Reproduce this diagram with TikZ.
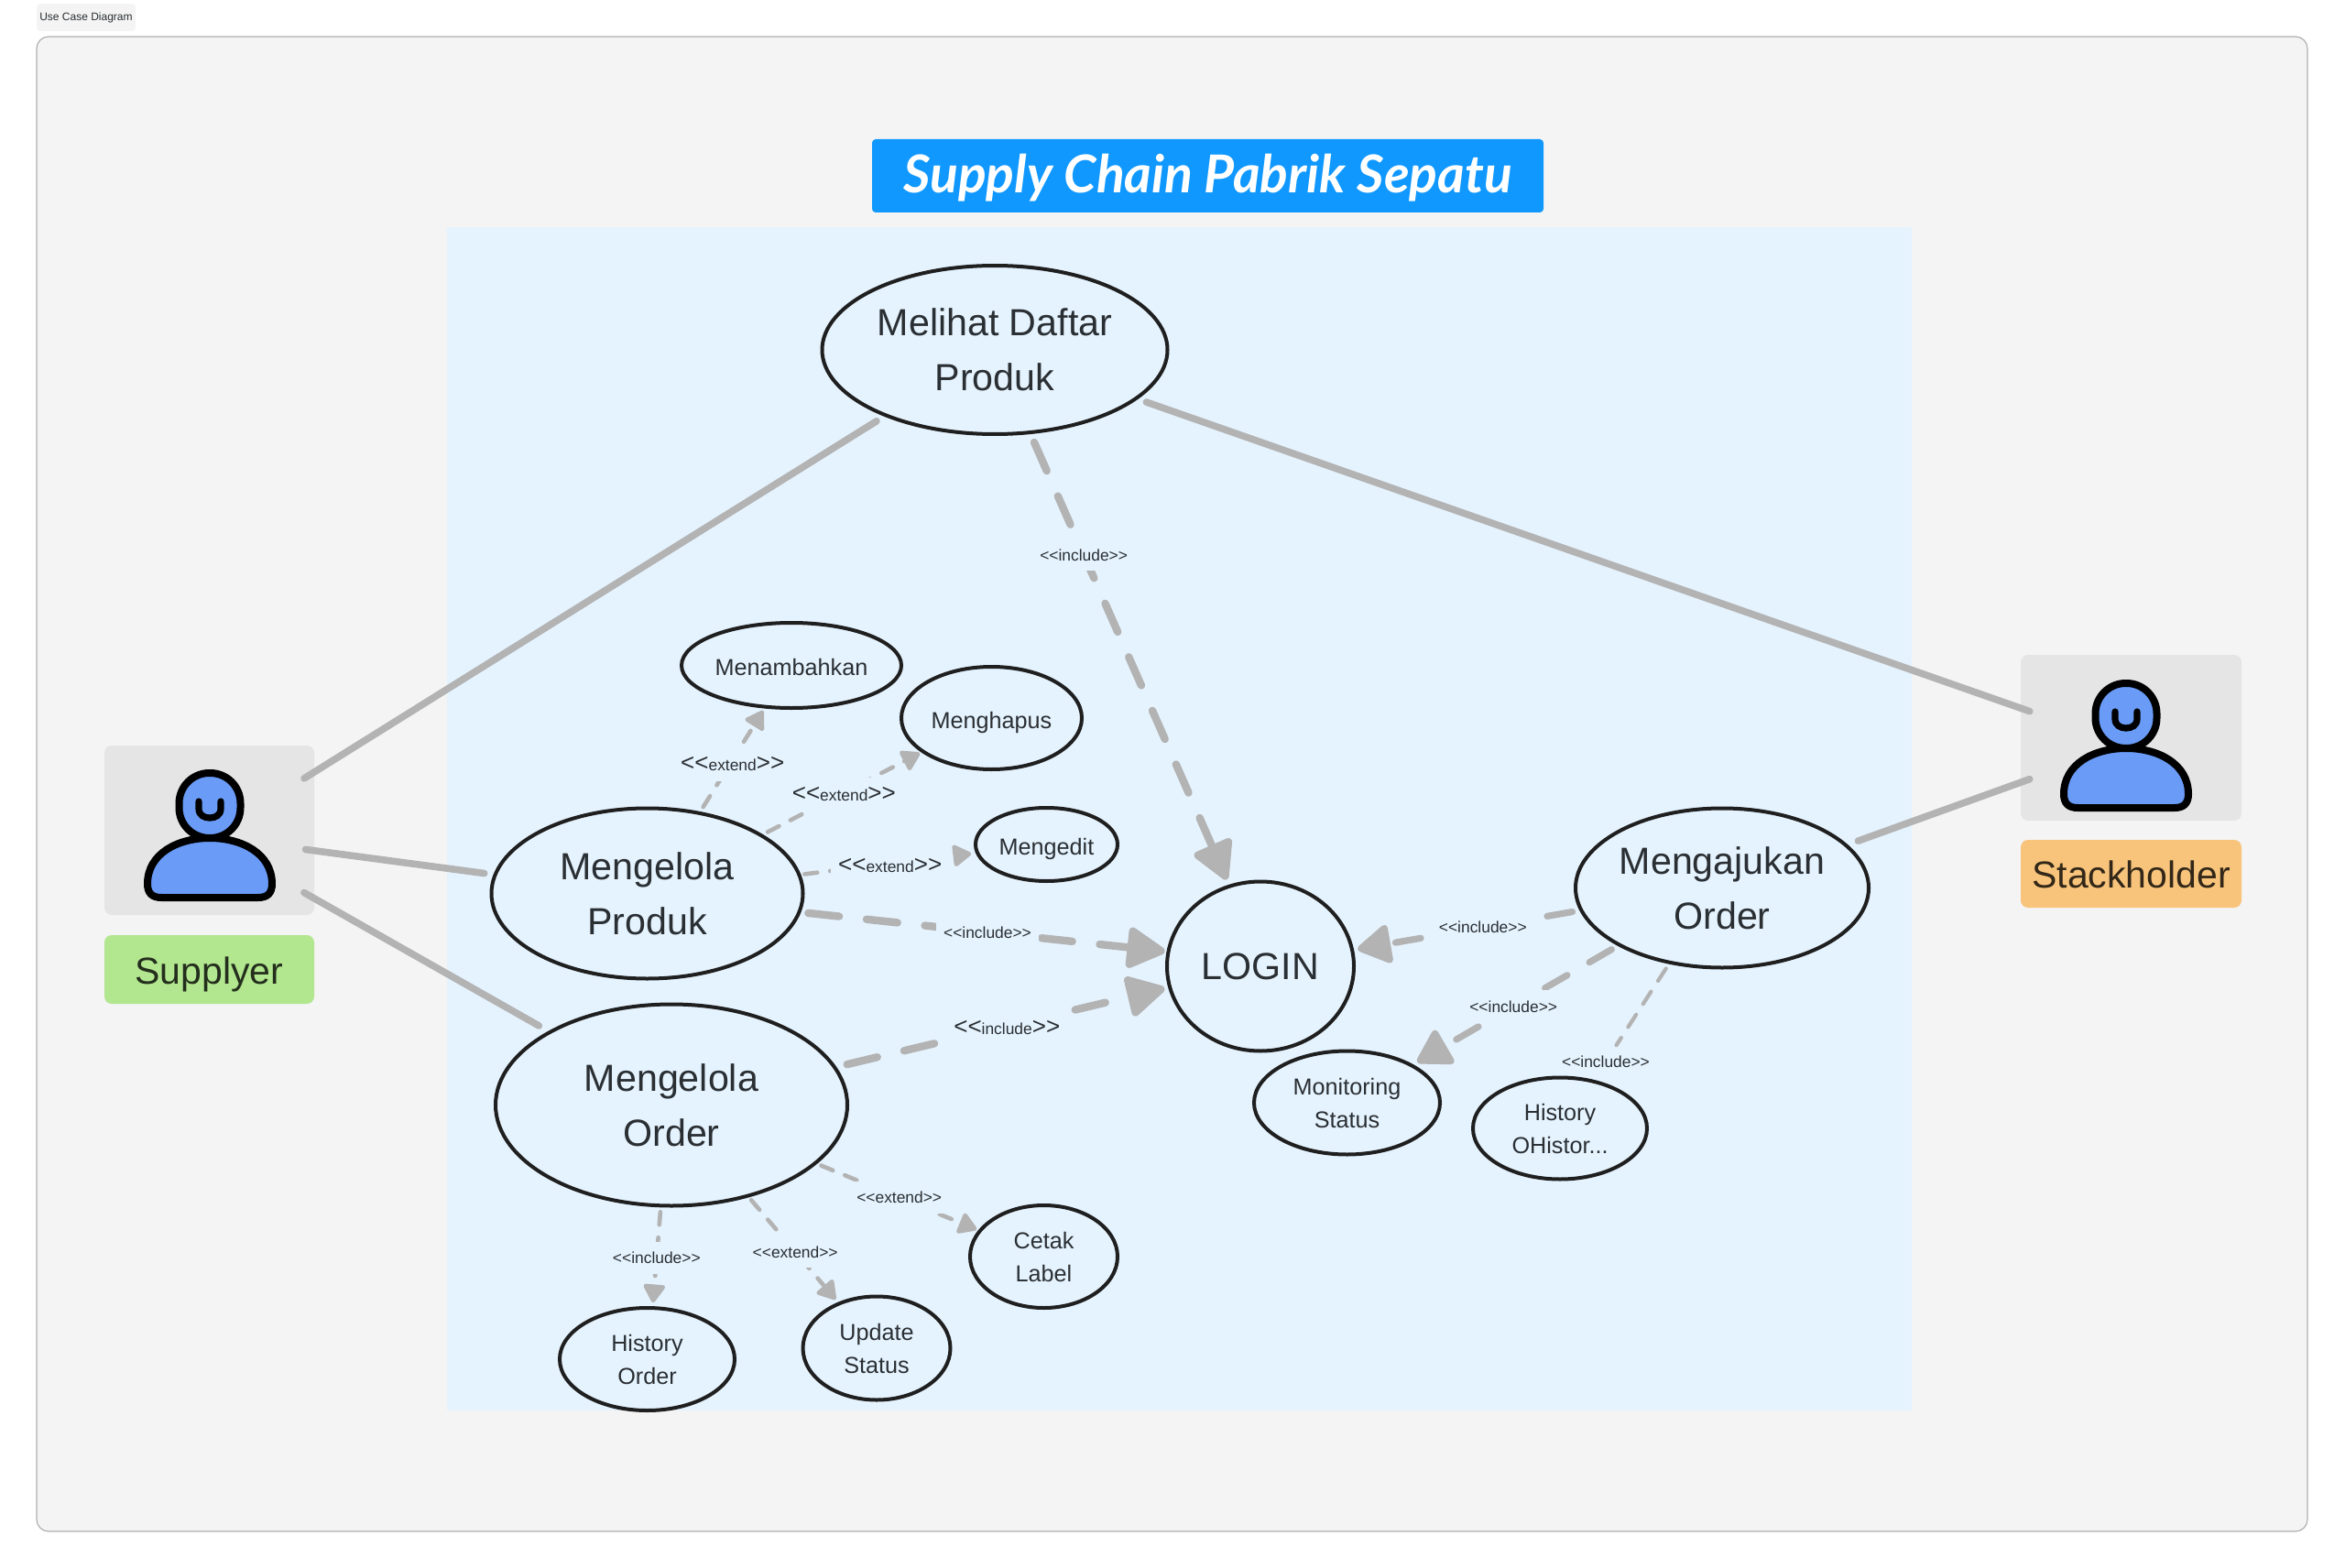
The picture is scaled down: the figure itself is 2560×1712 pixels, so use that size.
\documentclass[tikz,border=0pt]{standalone}
\usepackage{fontspec}
\setsansfont{Liberation Sans}
\newfontfamily\titlefont{Lato}
\usetikzlibrary{shapes.geometric, arrows.meta}

\definecolor{framefill}{HTML}{F4F4F4}
\definecolor{frameline}{HTML}{B0B0B0}
\definecolor{panelblue}{HTML}{E5F3FE}
\definecolor{titleblue}{HTML}{1098FF}
\definecolor{actorgrey}{HTML}{E5E5E5}
\definecolor{personblue}{HTML}{699BF7}
\definecolor{linegrey}{HTML}{B3B3B3}
\definecolor{inktext}{HTML}{2A2F33}
\definecolor{greenlabel}{HTML}{B2E68F}
\definecolor{orangelabel}{HTML}{F8C47B}

\newcommand{\stereo}[1]{<{}<#1>{}>}
\newcommand{\bigstereo}[1]{{\fontsize{13}{13}\selectfont<{}<}#1{\fontsize{13}{13}\selectfont>{}>}}

\tikzset{
	usecase/.style={ellipse, draw=black!88, line width=2pt, outer sep=0pt, inner sep=0pt, align=center, text=inktext, font=\sffamily\fontsize{20.6}{30}\selectfont},
	smallcase/.style={usecase, font=\sffamily\fontsize{12.6}{18}\selectfont},
	oneline/.style={text height=11pt, text depth=0pt},
	actorbox/.style={rectangle, rounded corners=4pt, fill=actorgrey, outer sep=0pt},
	actorname/.style={rectangle, rounded corners=4pt, text height=15.6pt, text depth=0pt, font=\sffamily\fontsize{20.5}{24}\selectfont},
	assoc/.style={draw=linegrey, line width=3.8pt, line cap=round},
	heavydep/.style={draw=linegrey, line width=4.2pt, line cap=round, dash pattern=on 17pt off 15pt, -{Triangle[length=23pt, width=24pt, round]}},
	middep/.style={draw=linegrey, line width=3.6pt, line cap=round, dash pattern=on 14pt off 14pt, -{Triangle[length=20pt, width=23pt, round]}},
	lightdep/.style={draw=linegrey, line width=2.3pt, line cap=round, dash pattern=on 7pt off 7pt, -{Triangle[length=11pt, width=13pt, round]}},
	deplabel/.style={fill=panelblue, inner xsep=4pt, inner ysep=5.5pt, text=inktext, font=\sffamily\fontsize{8.7}{10}\selectfont},
	personicon/.pic={
		\draw[fill=personblue, draw=black, line width=4pt, rounded corners=16.5pt] (-33.5,-68) rectangle (33.5,3);
		\draw[fill=personblue, draw=black, line width=4pt] (-68,53) .. controls (-68,20) and (-35,3) .. (0,3) .. controls (35,3) and (68,20) .. (68,53) .. controls (68,63) and (63,68) .. (53,68) -- (-53,68) .. controls (-63,68) and (-68,63) .. (-68,53) -- cycle;
		\draw[draw=black, line width=3.6pt, line cap=round] (-12,-37) -- (-12,-29) .. controls (-12,-22) and (-6,-19) .. (0,-19) .. controls (6,-19) and (12,-22) .. (12,-29) -- (12,-37);
	}
}

\begin{document}
\begin{tikzpicture}[x=0.5pt, y=-0.5pt]
	\useasboundingbox (0,0) rectangle (2560,1712);

	\draw[fill=framefill, draw=frameline, line width=0.6pt, rounded corners=6.5pt] (40,40) rectangle (2519,1672);
	\node[rectangle, rounded corners=2pt, fill=framefill, minimum width=54pt, minimum height=15pt, inner sep=0pt, text=inktext, font=\sffamily\fontsize{6}{7}\selectfont] (tag) at (94,19) {Use Case Diagram};
	\fill[panelblue] (488,248) rectangle (2087,1540);

	\node[rectangle, rounded corners=2pt, fill=titleblue, minimum width=366.5pt, minimum height=40pt, text=white, text height=22.5pt, text depth=4pt, font=\titlefont\fontsize{28.5}{32}\selectfont\bfseries\itshape] (title) at (1318.5,192) {Supply Chain Pabrik Sepatu};

	\node[actorbox, minimum width=114.5pt, minimum height=92.5pt] (supplyerbox) at (228.5,906.5) {};
	\node[actorbox, minimum width=120.5pt, minimum height=90.5pt] (stackbox) at (2326.5,805.5) {};
	\pic at (229,912) {personicon};
	\pic at (2321,814) {personicon};
	\node[actorname, fill=greenlabel, text=greenlabel!20!black, minimum width=114.5pt, minimum height=37.5pt] (supplyer) at (228.5,1058.5) {Supplyer};
	\node[actorname, fill=orangelabel, text=orangelabel!20!black, minimum width=120.5pt, minimum height=37pt] (stackholder) at (2326.5,954) {Stackholder};

	\node[usecase, minimum width=188.5pt, minimum height=92pt] (melihat) at (1086,382) {Melihat Daftar\\Produk};
	\node[usecase, minimum width=170pt, minimum height=93pt] (produk) at (706.5,975.5) {Mengelola\\Produk};
	\node[usecase, minimum width=192pt, minimum height=110pt] (order) at (733,1206.5) {Mengelola\\Order};
	\node[usecase, minimum width=102pt, minimum height=92.5pt] (login) at (1376,1055) {LOGIN};
	\node[usecase, minimum width=160pt, minimum height=87pt] (mengajukan) at (1880,969.5) {Mengajukan\\Order};

	\node[smallcase, oneline, minimum width=120pt, minimum height=46.5pt] (menambahkan) at (864,726.5) {Menambahkan};
	\node[smallcase, oneline, minimum width=98.5pt, minimum height=56pt] (menghapus) at (1082.5,784) {Menghapus};
	\node[smallcase, oneline, minimum width=77.5pt, minimum height=40pt] (mengedit) at (1142.5,922) {Mengedit};
	\node[smallcase, minimum width=101.5pt, minimum height=56.5pt] (monitoring) at (1470.5,1204) {Monitoring\\Status};
	\node[smallcase, minimum width=95pt, minimum height=55.5pt] (ohistory) at (1703,1232) {History\\OHistor...};
	\node[smallcase, minimum width=80.5pt, minimum height=56pt] (cetak) at (1139.5,1372) {Cetak\\Label};
	\node[smallcase, minimum width=80.5pt, minimum height=56.5pt] (update) at (957,1472) {Update\\Status};
	\node[smallcase, minimum width=95.5pt, minimum height=56pt] (history) at (706.5,1484) {History\\Order};

	\draw[assoc, shorten <=-6.5pt, shorten >=6pt] (supplyerbox.29.66) -- (melihat.211.4);
	\draw[assoc, shorten <=-4.8pt, shorten >=6pt] (supplyerbox.349.5) -- (produk.173);
	\draw[assoc, shorten <=-6.4pt, shorten >=7pt] (supplyerbox.327.6) -- (order.149.4);
	\draw[assoc, shorten <=-5.2pt, shorten >=6pt] (stackbox.165.3) -- (melihat.341);
	\draw[assoc, shorten <=-5.2pt, shorten >=7pt] (stackbox.202) -- (mengajukan.19.9);

	\draw[heavydep, shorten <=6pt, shorten >=4pt] (melihat.293.5) -- node[deplabel, pos=.27] {\stereo{include}} (login.111.2);
	\draw[heavydep, shorten <=5pt, shorten >=2pt] (produk.353.2) -- node[deplabel, pos=.51] {\stereo{include}} (login.171.7);
	\draw[heavydep, shorten <=7pt, shorten >=3pt] (order.13.7) -- node[deplabel, pos=.514, yshift=-1pt] {\bigstereo{include}} (login.193.5);
	\draw[middep, shorten <=5pt, shorten >=3pt] (mengajukan.189.5) -- node[deplabel, pos=.43] {\stereo{include}} (login.10.4);
	\draw[middep, shorten <=5pt, shorten >=3.5pt] (mengajukan.209.2) -- node[deplabel, pos=.51] {\stereo{include}} (monitoring.30.3);

	\draw[lightdep, shorten <=4pt, shorten >=2.5pt] (produk.57.9) -- node[deplabel, pos=.46, xshift=1.5pt] {\bigstereo{extend}} (menambahkan.238.5);
	\draw[lightdep, shorten <=4pt, shorten >=2pt] (produk.27.1) -- node[deplabel, pos=.5, xshift=1pt, yshift=-.5pt] {\bigstereo{extend}} (menghapus.206.3);
	\draw[lightdep, shorten <=3pt, shorten >=3.5pt] (produk.7) -- node[deplabel, pos=.51, yshift=-1pt] {\bigstereo{extend}} (mengedit.187.5);
	\draw[lightdep, shorten <=3.5pt, shorten >=2pt] (order.338) -- node[deplabel, pos=.51] {\stereo{extend}} (cetak.158);
	\draw[lightdep, shorten <=3pt, shorten >=3pt] (order.310.2) -- node[deplabel, pos=.52] {\stereo{extend}} (update.130.4);
	\draw[lightdep, shorten <=3.5pt, shorten >=3pt] (order.264.6) -- node[deplabel, pos=.51] {\stereo{include}} (history.84);

	\node[deplabel, fill=none, inner ysep=3pt] (ohistorylabel) at (1753,1159) {\stereo{include}};
	\draw[draw=linegrey, line width=2.1pt, line cap=round, dash pattern=on 8pt off 7pt, shorten <=4pt, shorten >=3pt] (mengajukan.235.7) -- (ohistorylabel);
\end{tikzpicture}
\end{document}
